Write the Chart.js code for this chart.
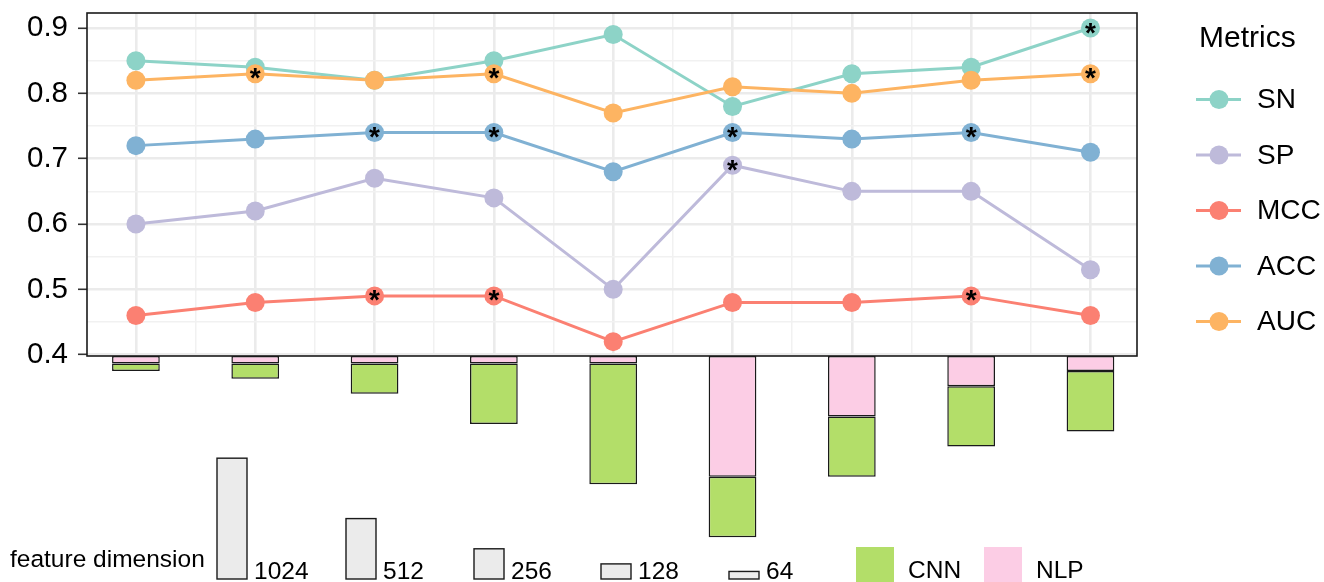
<!DOCTYPE html>
<html>
<head>
<meta charset="utf-8">
<script src="https://cdn.jsdelivr.net/npm/chart.js@4.4.1/dist/chart.umd.min.js"></script>
<style>
  html, body { margin: 0; padding: 0; background: #ffffff; }
  #wrap { width: 1324px; height: 582px; position: relative; }
  canvas { display: block; }
</style>
</head>
<body>
<div id="wrap"><canvas id="chart" width="1324" height="582"></canvas></div>
<script>
// Feature combinations along the x axis (NLP dimension + CNN dimension)
const categories = ['NLP64+CNN64', 'NLP64+CNN128', 'NLP64+CNN256', 'NLP64+CNN512', 'NLP64+CNN1024',
                    'NLP1024+CNN512', 'NLP512+CNN512', 'NLP256+CNN512', 'NLP128+CNN512'];
const nlpDim = [64, 64, 64, 64, 64, 1024, 512, 256, 128];
const cnnDim = [64, 128, 256, 512, 1024, 512, 512, 512, 512];

// Metric values per combination
const sn  = [0.85, 0.84, 0.82, 0.85, 0.89, 0.78, 0.83, 0.84, 0.90];
const sp  = [0.60, 0.62, 0.67, 0.64, 0.50, 0.69, 0.65, 0.65, 0.53];
const mcc = [0.46, 0.48, 0.49, 0.49, 0.42, 0.48, 0.48, 0.49, 0.46];
const acc = [0.72, 0.73, 0.74, 0.74, 0.68, 0.74, 0.73, 0.74, 0.71];
const auc = [0.82, 0.83, 0.82, 0.83, 0.77, 0.81, 0.80, 0.82, 0.83];

// Combinations flagged with an asterisk, per metric
const snStars  = [8];
const spStars  = [5];
const mccStars = [2, 3, 7];
const accStars = [2, 3, 5, 7];
const aucStars = [1, 3, 8];

// Axis ticks and size-legend levels
const yTicks = [0.4, 0.5, 0.6, 0.7, 0.8, 0.9];
const dimLevels = [1024, 512, 256, 128, 64];

const FONT = "'Liberation Sans', Arial, Helvetica, sans-serif";
const GRID = '#ebebeb';
const GRID_MINOR = '#f1f1f1';
const INK = '#1a1a1a';

const metrics = [
  { label: 'SN',  values: sn,  stars: snStars,  color: '#8dd3c7' },
  { label: 'SP',  values: sp,  stars: spStars,  color: '#bebada' },
  { label: 'MCC', values: mcc, stars: mccStars, color: '#fb8072' },
  { label: 'ACC', values: acc, stars: accStars, color: '#80b1d3' },
  { label: 'AUC', values: auc, stars: aucStars, color: '#fdb462' }
];
const dims = [
  { label: 'NLP', values: nlpDim, color: '#fccde5' },
  { label: 'CNN', values: cnnDim, color: '#b3de69' }
];

// grid positions: major at each value, minor half-way between
const yGrid = [];
yTicks.forEach((v, i) => {
  yGrid.push(v);
  if (i < yTicks.length - 1) yGrid.push(+((v + yTicks[i + 1]) / 2).toFixed(3));
});
const xGrid = [];
categories.forEach((c, i) => {
  xGrid.push(i + 1);
  if (i < categories.length - 1) xGrid.push(i + 1.5);
});
const isMajorY = v => Math.abs(v * 10 - Math.round(v * 10)) < 1e-6;
const isMajorX = v => Math.abs(v - Math.round(v)) < 1e-6;

const lineSets = metrics.map((m, k) => ({
  type: 'line',
  label: m.label,
  data: m.values.map((v, i) => ({ x: i + 1, y: v })),
  borderColor: m.color,
  backgroundColor: m.color,
  borderWidth: 3,
  pointRadius: 9.5,
  pointHoverRadius: 9.5,
  pointBorderWidth: 0,
  pointBackgroundColor: m.color,
  tension: 0,
  xAxisID: 'x',
  yAxisID: 'y',
  order: metrics.length - k
}));

const barSets = dims.map(d => ({
  type: 'bar',
  label: d.label,
  data: d.values.map((v, i) => ({ x: i + 1, y: v })),
  backgroundColor: d.color,
  borderColor: INK,
  borderWidth: 1.5,
  borderSkipped: false,
  categoryPercentage: 0.8,
  barPercentage: 1.0,
  stack: 'dimension',
  clip: false,
  xAxisID: 'x',
  yAxisID: 'yDim',
  order: 20
}));

// Outline of the metric panel
const panelBorder = {
  id: 'panelBorder',
  beforeDatasetsDraw(chart) {
    const { ctx, chartArea: a } = chart;
    ctx.save();
    ctx.strokeStyle = INK;
    ctx.lineWidth = 1.6;
    ctx.strokeRect(a.left, a.top, a.right - a.left, a.bottom - a.top);
    ctx.restore();
  }
};

// Asterisks on the flagged points
const starMarks = {
  id: 'starMarks',
  afterDatasetsDraw(chart) {
    const { ctx } = chart;
    ctx.save();
    ctx.fillStyle = '#000';
    ctx.font = 'bold 28px ' + FONT;
    ctx.textAlign = 'center';
    ctx.textBaseline = 'alphabetic';
    const m = ctx.measureText('*');
    const shift = (m.actualBoundingBoxAscent - m.actualBoundingBoxDescent) / 2;
    metrics.forEach((s, k) => {
      const meta = chart.getDatasetMeta(k);
      s.stars.forEach(idx => {
        const p = meta.data[idx];
        ctx.fillText('*', p.x, p.y + shift);
      });
    });
    ctx.restore();
  }
};

// Metric legend on the right, size legend and fill legend underneath
const legends = {
  id: 'legends',
  afterDraw(chart) {
    const { ctx } = chart;
    ctx.save();
    ctx.fillStyle = '#000';
    ctx.textBaseline = 'middle';
    ctx.textAlign = 'left';
    ctx.font = '30px ' + FONT;
    ctx.fillText('Metrics', 1199, 39);
    ctx.font = '28px ' + FONT;
    metrics.forEach((m, k) => {
      const y = 99.5 + k * 55.5;
      ctx.strokeStyle = m.color;
      ctx.lineWidth = 3;
      ctx.beginPath();
      ctx.moveTo(1196, y);
      ctx.lineTo(1241, y);
      ctx.stroke();
      ctx.fillStyle = m.color;
      ctx.beginPath();
      ctx.arc(1219, y, 9.5, 0, Math.PI * 2);
      ctx.fill();
      ctx.fillStyle = '#000';
      ctx.fillText(m.label, 1257, y + 1);
    });

    // size legend, boxes scaled with the dimension axis
    const yd = chart.scales.yDim;
    const unit = yd.getPixelForValue(1) - yd.getPixelForValue(0);
    ctx.textBaseline = 'alphabetic';
    ctx.font = '24.5px ' + FONT;
    ctx.fillStyle = '#000';
    ctx.fillText('feature dimension', 10, 567);
    const lefts = [217, 346, 474, 601, 729];
    const base = 579;
    dimLevels.forEach((v, i) => {
      const h = v * unit;
      ctx.fillStyle = '#ebebeb';
      ctx.fillRect(lefts[i], base - h, 30, h);
      ctx.strokeStyle = INK;
      ctx.lineWidth = 1.4;
      ctx.strokeRect(lefts[i], base - h, 30, h);
      ctx.fillStyle = '#000';
      ctx.fillText(String(v), lefts[i] + 37, base);
    });

    const fills = [dims[1], dims[0]];
    const fx = [856, 984];
    fills.forEach((d, i) => {
      ctx.fillStyle = d.color;
      ctx.fillRect(fx[i], 547, 38, 40);
      ctx.fillStyle = '#000';
      ctx.fillText(d.label, fx[i] + 52, 578);
    });
    ctx.restore();
  }
};

new Chart(document.getElementById('chart'), {
  type: 'line',
  data: { labels: categories, datasets: [...lineSets, ...barSets] },
  options: {
    responsive: false,
    devicePixelRatio: 1,
    animation: false,
    events: [],
    layout: { padding: { top: 13, right: 187, bottom: 226, left: 0 } },
    plugins: { legend: { display: false }, tooltip: { enabled: false } },
    scales: {
      x: {
        type: 'linear',
        position: 'bottom',
        offset: false,
        min: 0.59,
        max: 9.39,
        border: { display: false },
        ticks: { display: false, autoSkip: false },
        afterBuildTicks: s => { s.ticks = xGrid.map(v => ({ value: v })); },
        grid: {
          offset: false,
          drawTicks: false,
          color: c => (c.tick && isMajorX(c.tick.value)) ? GRID : GRID_MINOR,
          lineWidth: c => (c.tick && isMajorX(c.tick.value)) ? 2.6 : 1.5
        }
      },
      y: {
        type: 'linear',
        position: 'left',
        min: 0.398,
        max: 0.923,
        border: { display: false },
        afterBuildTicks: s => { s.ticks = yGrid.map(v => ({ value: v })); },
        afterFit: s => { s.width = 87; s.paddingTop = 0; s.paddingBottom = 0; },
        ticks: {
          autoSkip: false,
          padding: 10,
          color: '#000',
          font: { family: FONT, size: 29.5 },
          callback: v => isMajorY(v) ? v.toFixed(1) : ''
        },
        grid: {
          color: c => (c.tick && isMajorY(c.tick.value)) ? GRID : GRID_MINOR,
          lineWidth: c => (c.tick && isMajorY(c.tick.value)) ? 2.6 : 1.5,
          tickLength: 9,
          tickWidth: 1.6,
          tickColor: c => (c.tick && isMajorY(c.tick.value)) ? '#333333' : 'rgba(0,0,0,0)'
        }
      },
      yDim: {
        type: 'linear',
        axis: 'y',
        position: 'left',
        display: false,
        reverse: true,
        stacked: true,
        min: -2907,
        max: 0
      }
    }
  },
  plugins: [panelBorder, starMarks, legends]
});
</script>
</body>
</html>
